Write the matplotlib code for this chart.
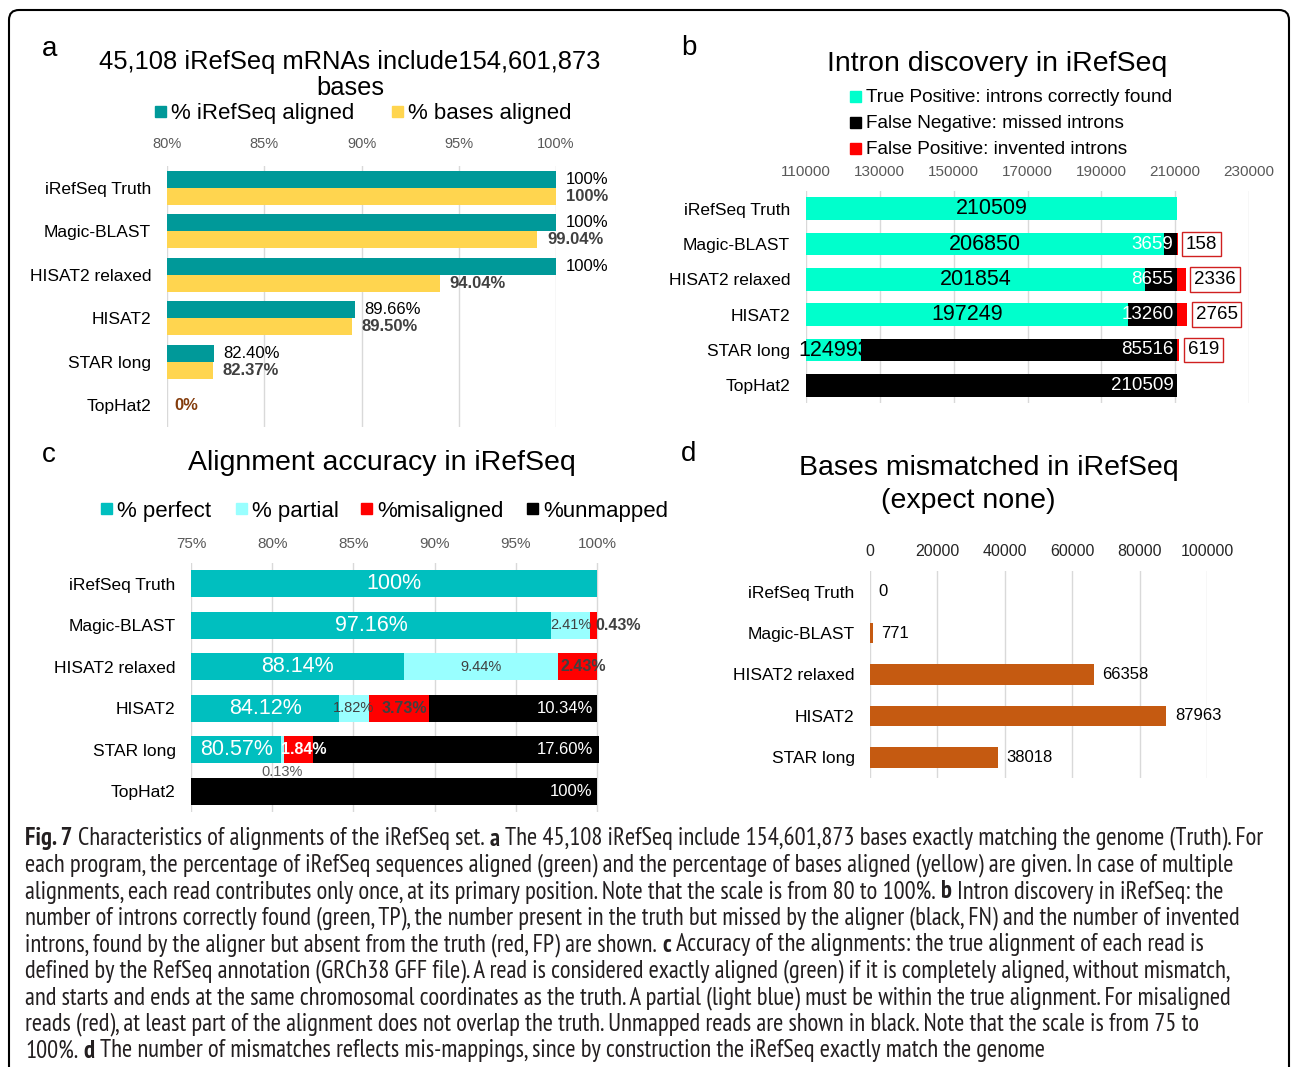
import os
import numpy as np
import matplotlib
matplotlib.use('Agg')
import matplotlib.pyplot as plt
from matplotlib import font_manager
from matplotlib.font_manager import FontProperties
from matplotlib.patches import FancyBboxPatch, Rectangle

plt.rcParams['font.family'] = ['Liberation Sans', 'DejaVu Sans']

W, H = 1292, 1067

methods = ['iRefSeq Truth', 'Magic-BLAST', 'HISAT2 relaxed', 'HISAT2', 'STAR long', 'TopHat2']

# a: alignment coverage (%)
irefseq_aligned = [100, 100, 100, 89.66, 82.40, 0]
bases_aligned = [100, 99.04, 94.04, 89.50, 82.37, 0]

# b: intron discovery (counts)
intron_tp = [210509, 206850, 201854, 197249, 124993, 0]
intron_fn = [0, 3659, 8655, 13260, 85516, 210509]
intron_fp = [0, 158, 2336, 2765, 619, 0]

# c: alignment accuracy (%)
acc_perfect = [100, 97.16, 88.14, 84.12, 80.57, 0]
acc_partial = [0, 2.41, 9.44, 1.82, 0.13, 0]
acc_misaligned = [0, 0.43, 2.43, 3.73, 1.84, 0]
acc_unmapped = [0, 0, 0, 10.34, 17.60, 100]

# d: mismatched bases
mismatch_methods = methods[:5]
mismatch_bases = [0, 771, 66358, 87963, 38018]

caption = [
    [("Fig. 7", True), ("Characteristics of alignments of the iRefSeq set.", False), ("a", True),
     ("The 45,108 iRefSeq include 154,601,873 bases exactly matching the genome (Truth). For", False)],
    [("each program, the percentage of iRefSeq sequences aligned (green) and the percentage of bases aligned (yellow) are given. In case of multiple", False)],
    [("alignments, each read contributes only once, at its primary position. Note that the scale is from 80 to 100%.", False), ("b", True),
     ("Intron discovery in iRefSeq: the", False)],
    [("number of introns correctly found (green, TP), the number present in the truth but missed by the aligner (black, FN) and the number of invented", False)],
    [("introns, found by the aligner but absent from the truth (red, FP) are shown.", False), ("c", True),
     ("Accuracy of the alignments: the true alignment of each read is", False)],
    [("defined by the RefSeq annotation (GRCh38 GFF file). A read is considered exactly aligned (green) if it is completely aligned, without mismatch,", False)],
    [("and starts and ends at the same chromosomal coordinates as the truth. A partial (light blue) must be within the true alignment. For misaligned", False)],
    [("reads (red), at least part of the alignment does not overlap the truth. Unmapped reads are shown in black. Note that the scale is from 75 to", False)],
    [("100%.", False), ("d", True), ("The number of mismatches reflects mis-mappings, since by construction the iRefSeq exactly match the genome", False)],
]

fig = plt.figure(figsize=(W / 100, H / 100), dpi=100)
renderer = fig.canvas.get_renderer()


def add_axes_px(left, top, right, bottom):
    return fig.add_axes([left / W, 1 - bottom / H, (right - left) / W, (bottom - top) / H])


def fig_text(x, y, s, **kw):
    return fig.text(x / W, 1 - y / H, s, **kw)


def style_axes(ax, labels, tick_color, tick_size, tick_pad, label_pad):
    for sp in ax.spines.values():
        sp.set_visible(False)
    ax.xaxis.tick_top()
    ax.tick_params(axis='x', length=0, colors=tick_color, labelsize=tick_size, pad=tick_pad)
    ax.set_yticks(range(len(labels)))
    ax.set_yticklabels(labels)
    ax.tick_params(axis='y', length=0, labelsize=12.5, pad=label_pad, colors='black')
    ax.set_ylim(len(labels) - 0.5, -0.5)
    ax.grid(axis='x', color='#D9D9D9', lw=1)
    ax.set_axisbelow(True)


def legend_item(x, y, color, label, size):
    fig.add_artist(Rectangle((x / W, 1 - (y + 5.5) / H), 11 / W, 11 / H,
                             transform=fig.transFigure, color=color))
    fig_text(x + 16, y + 2, label, fontsize=size, va='center')


# outer frame
fig.add_artist(FancyBboxPatch((0.09, -0.3), 12.80, 10.57 + 0.3,
                              boxstyle='round,pad=0,rounding_size=0.1',
                              transform=fig.dpi_scale_trans, fc='none', ec='black', lw=1.5))

# panel letters
for letter, (lx, ly) in zip('abcd', [(42, 49), (681, 48), (42, 455), (681, 454)]):
    fig_text(lx, ly, letter, fontsize=20, va='center')

# ---------- a ----------
ax_a = add_axes_px(167, 166, 556, 427)
y = np.arange(len(methods))
h = 0.39
ax_a.barh(y - h / 2, irefseq_aligned, height=h, color='#009999')
ax_a.barh(y + h / 2, bases_aligned, height=h, color='#FFD54F')
ax_a.set_xlim(80, 100)
ax_a.set_xticks([80, 85, 90, 95, 100])
ax_a.set_xticklabels([f'{v}%' for v in [80, 85, 90, 95, 100]])
style_axes(ax_a, methods, '#595959', 10.5, 11, 11.5)


def pct(v):
    return '100%' if v == 100 else f'{v:.2f}%'


for i, (t, b) in enumerate(zip(irefseq_aligned, bases_aligned)):
    if t == 0 and b == 0:
        ax_a.annotate('0%', (80, i), xytext=(5, 0), textcoords='offset points',
                      ha='left', va='center', fontsize=12, fontweight='bold', color='#843C0C')
        continue
    ax_a.annotate(pct(t), (t, i - h / 2), xytext=(7, 0), textcoords='offset points',
                  ha='left', va='center', fontsize=12, color='black')
    ax_a.annotate(pct(b), (b, i + h / 2), xytext=(7, 0), textcoords='offset points',
                  ha='left', va='center', fontsize=12, fontweight='bold', color='#404040')

fig_text(350, 75, '45,108 iRefSeq mRNAs include154,601,873\nbases', fontsize=18.4,
         ha='center', va='center', linespacing=1.15)
legend_item(155, 111, '#009999', '% iRefSeq aligned', 16)
legend_item(392, 111, '#FFD54F', '% bases aligned', 16)

# ---------- b ----------
ax_b = add_axes_px(806, 191, 1249, 403)
tp = np.array(intron_tp)
fn = np.array(intron_fn)
fp = np.array(intron_fp)
hb = 0.65
ax_b.barh(y, tp, height=hb, color='#00FFCC')
ax_b.barh(y, fn, left=tp, height=hb, color='black')
ax_b.barh(y, fp, left=tp + fn, height=hb, color='#FF0000')
xmin_b = 110000
ax_b.set_xlim(xmin_b, 230000)
ax_b.set_xticks(range(110000, 230001, 20000))
style_axes(ax_b, methods, '#595959', 11, 9, 11.5)

for i in range(len(methods)):
    if tp[i] > 0:
        cx = (max(xmin_b, 0) + tp[i]) / 2
        ax_b.text(cx, i, str(tp[i]), ha='center', va='center', fontsize=15.5, color='black')
    if fn[i] > 0:
        ax_b.annotate(str(fn[i]), (tp[i] + fn[i], i), xytext=(-2.5, 0), textcoords='offset points',
                      ha='right', va='center', fontsize=13.5, color='white')
    if fp[i] > 0:
        ax_b.annotate(str(fp[i]), (tp[i] + fn[i] + fp[i], i), xytext=(6, 0), textcoords='offset points',
                      ha='left', va='center', fontsize=13.5, color='black',
                      bbox=dict(boxstyle='square,pad=0.2', fc='white', ec='#D02020', lw=1))

fig_text(997, 64, 'Intron discovery in iRefSeq', fontsize=20.5, ha='center', va='center')
legend_item(850, 96, '#00FFCC', 'True Positive: introns correctly found', 13.7)
legend_item(850, 122, 'black', 'False Negative: missed introns', 13.7)
legend_item(850, 148, '#FF0000', 'False Positive: invented introns', 13.7)

# ---------- c ----------
xmin_c, xmax_c = 75, 100.3
ax_c = add_axes_px(191, 563, 191 + (xmax_c - xmin_c) * 16.24, 812)
perf = np.array(acc_perfect)
part = np.array(acc_partial)
mis = np.array(acc_misaligned)
unm = np.array(acc_unmapped)
hc = 0.65
ax_c.barh(y, perf, height=hc, color='#00BFBF')
ax_c.barh(y, part, left=perf, height=hc, color='#99FFFF')
ax_c.barh(y, mis, left=perf + part, height=hc, color='#FF0000')
ax_c.barh(y, unm, left=perf + part + mis, height=hc, color='black')
ax_c.set_xlim(xmin_c, xmax_c)
ax_c.set_xticks([75, 80, 85, 90, 95, 100])
ax_c.set_xticklabels([f'{v}%' for v in [75, 80, 85, 90, 95, 100]])
style_axes(ax_c, methods, '#595959', 11, 9, 11)

mis_label_colors = ['#404040', '#404040', '#404040', '#404040', 'white', '#404040']
for i in range(len(methods)):
    if perf[i] > 0:
        ax_c.text((max(xmin_c, 0) + perf[i]) / 2, i, pct(perf[i]), ha='center', va='center',
                  fontsize=15.5, color='white')
    if part[i] > 0:
        lo = perf[i]
        if part[i] < 0.5:
            ax_c.annotate(f'{part[i]:.2f}%', (lo + part[i] / 2, i + hc / 2), xytext=(0, -1),
                          textcoords='offset points', ha='center', va='top', fontsize=10.5, color='#595959')
        else:
            ax_c.text(lo + part[i] / 2, i, f'{part[i]:.2f}%', ha='center', va='center',
                      fontsize=10.5, color='#404040')
    if mis[i] > 0:
        lo = perf[i] + part[i]
        if mis[i] < 1:
            ax_c.annotate(f'{mis[i]:.2f}%', (lo + mis[i], i), xytext=(-1, 0), textcoords='offset points',
                          ha='left', va='center', fontsize=11.5, fontweight='bold', color=mis_label_colors[i])
        else:
            ax_c.annotate(f'{mis[i]:.2f}%', (lo + mis[i] / 2, i), xytext=(4, 0), textcoords='offset points',
                          ha='center', va='center', fontsize=11.5, fontweight='bold', color=mis_label_colors[i])
    if unm[i] > 0:
        end = perf[i] + part[i] + mis[i] + unm[i]
        label = '100%' if unm[i] == 100 else f'{unm[i]:.2f}%'
        ax_c.annotate(label, (min(end, 100), i), xytext=(-3, 0), textcoords='offset points',
                      ha='right', va='center', fontsize=12, color='white')

fig_text(382, 463, 'Alignment accuracy in iRefSeq', fontsize=20.5, ha='center', va='center')
legend_item(101, 509, '#00BFBF', '% perfect', 16)
legend_item(236, 509, '#99FFFF', '% partial', 16)
legend_item(361, 509, '#FF0000', '%misaligned', 16)
legend_item(527, 509, 'black', '%unmapped', 16)

# ---------- d ----------
ax_d = add_axes_px(870, 571, 1207, 778)
yd = np.arange(len(mismatch_methods))
ax_d.barh(yd, mismatch_bases, height=0.5, color='#C55A11')
ax_d.set_xlim(0, 100000)
ax_d.set_xticks(range(0, 100001, 20000))
style_axes(ax_d, mismatch_methods, '#262626', 11.5, 9, 11)
for i, v in enumerate(mismatch_bases):
    ax_d.annotate(str(v), (v, i), xytext=(6, 0), textcoords='offset points',
                  ha='left', va='center', fontsize=12, color='black')

fig_text(989, 468, 'Bases mismatched in iRefSeq', fontsize=20.5, ha='center', va='center')
fig_text(968, 501, '(expect none)', fontsize=20.5, ha='center', va='center')


# ---------- caption ----------
def condensed_fonts():
    # narrow/condensed sans faces, regular and bold, if any are installed
    def rank(path):
        base = os.path.basename(path).lower()
        if 'mono' in base or 'serif' in base or 'italic' in base or 'oblique' in base:
            return None
        if 'narrow' in base:
            return 0
        if 'semicondensed' in base:
            return 2
        if 'condensed' in base and not any(k in base for k in ('extra', 'ultra')):
            return 1
        return None

    found = {}
    for f in font_manager.fontManager.ttflist:
        r = rank(f.fname)
        if r is None or f.style != 'normal':
            continue
        w = f.weight if isinstance(f.weight, int) else font_manager.weight_dict.get(f.weight, 400)
        if w in (400, 700):
            found.setdefault((r, f.name), {})[w] = f.fname
    for key in sorted(found):
        faces = found[key]
        if 400 in faces and 700 in faces:
            return FontProperties(fname=faces[400]), FontProperties(fname=faces[700])
    return (FontProperties(family='Liberation Sans'),
            FontProperties(family='Liberation Sans', weight='bold'))


cap_regular, cap_bold = condensed_fonts()


def cap_props(size, bold):
    fp_ = (cap_bold if bold else cap_regular).copy()
    fp_.set_size(size)
    return fp_


def text_width(s, size, bold):
    t = fig.text(0, 0, s, fontproperties=cap_props(size, bold))
    w = t.get_window_extent(renderer).width
    t.remove()
    return w


def line_width(parts, size):
    space = text_width('a a', size, False) - text_width('aa', size, False)
    return sum(text_width(s, size, b) for s, b in parts) + space * (len(parts) - 1)


cap_size = 10 * 1240 / line_width(caption[0], 10)
space_w = text_width('a a', cap_size, False) - text_width('aa', cap_size, False)
for k, parts in enumerate(caption):
    x = 25
    ly = 839 + k * 26.5
    for s, bold in parts:
        fig_text(x, ly, s, fontproperties=cap_props(cap_size, bold), color='#231F20', va='center')
        x += text_width(s, cap_size, bold) + space_w

fig.savefig('out.png', dpi=100)
